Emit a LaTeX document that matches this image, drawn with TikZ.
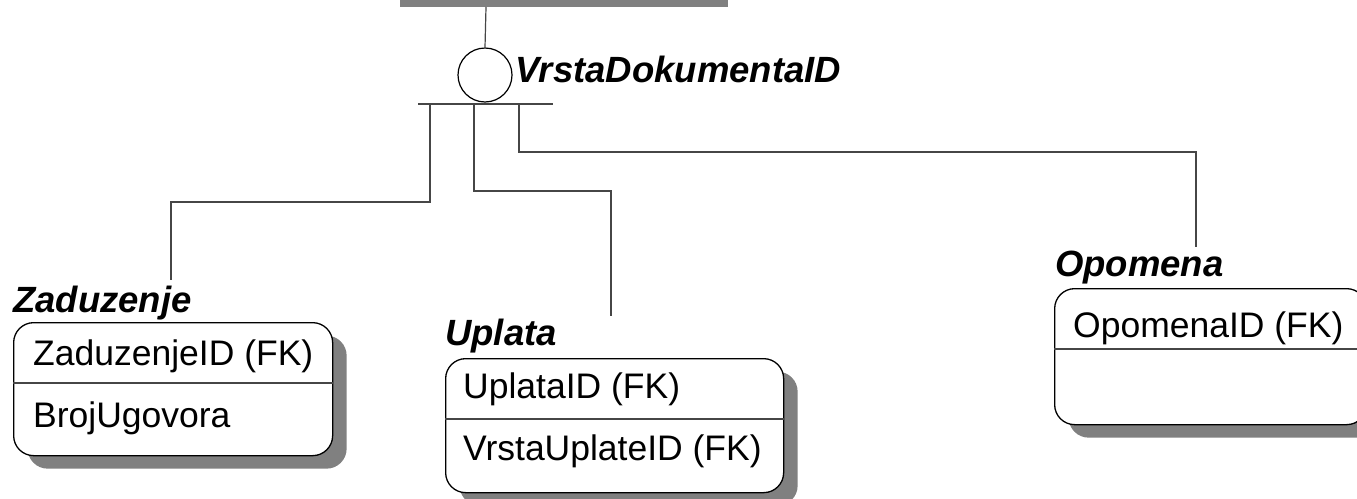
\documentclass[tikz,border=0pt]{standalone}
\usepackage{fontspec}
\setmainfont{Liberation Sans}
\usepackage{tikz}
\usetikzlibrary{shadows}

\definecolor{shadowgray}{RGB}{128,128,128}
\definecolor{linegray}{RGB}{70,70,70}

\tikzset{
  entbox/.style={draw=black, line width=1.3pt, rounded corners=20pt, fill=white,
    anchor=north west, inner sep=0pt,
    drop shadow={shadow xshift=14pt, shadow yshift=-13pt, opacity=1, fill=shadowgray}},
  enttitle/.style={anchor=base west, inner sep=0pt, font=\fontsize{36.5}{40}\selectfont\bfseries\itshape},
  attr/.style={anchor=base west, inner sep=0pt, font=\fontsize{35.5}{40}\selectfont},
  rel/.style={draw=linegray, line width=1.2pt},
  sepline/.style={draw=linegray, line width=1.2pt}
}

\begin{document}
\begin{tikzpicture}[x=1pt,y=-1pt]
  \useasboundingbox (0,0) rectangle (1357,498);
  \clip (0,0) rectangle (1357,498);

  % parent entity, only its shadow is visible
  \fill[shadowgray] (400,-10) rectangle (728,7);
  \coordinate (par) at (486,7);

  % subtype symbol
  \node[circle, draw, line width=1.2pt, minimum size=54pt, inner sep=0pt] (sub) at (485,75) {};
  \node[enttitle] (disc) at (515,82) {VrstaDokumentaID};
  \coordinate (barl) at (418,104);
  \coordinate (barr) at (553,104);
  \draw[rel] (par) -- (sub.north);
  \draw[rel] (barl) -- (barr);

  % Zaduzenje
  \node[enttitle] (zadt) at (13,312) {Zaduzenje};
  \node[entbox, minimum width=319pt, minimum height=133pt] (zad) at (13,322) {};
  \draw[sepline] ([yshift=-61pt]zad.north west) -- ([yshift=-61pt]zad.north east);
  \node[attr] (zada) at (33,365) {ZaduzenjeID (FK)};
  \node[attr] (zadb) at (33,427) {BrojUgovora};

  % Uplata
  \node[enttitle] (uplt) at (445,345) {Uplata};
  \node[entbox, minimum width=338pt, minimum height=134pt] (upl) at (445,358) {};
  \draw[sepline] ([yshift=-61pt]upl.north west) -- ([yshift=-61pt]upl.north east);
  \node[attr] (upla) at (463,398) {UplataID (FK)};
  \node[attr] (uplb) at (463,460) {VrstaUplateID (FK)};

  % Opomena
  \node[enttitle] (opot) at (1055,276) {Opomena};
  \node[entbox, minimum width=312pt, minimum height=136pt] (opo) at (1054,288) {};
  \draw[sepline] ([yshift=-61pt]opo.north west) -- ([yshift=-61pt]opo.north east);
  \node[attr] (opoa) at (1073,337) {OpomenaID (FK)};

  % connectors
  \coordinate (zs) at (430,104);
  \coordinate (ze) at (171,280);
  \coordinate (us) at (474,104);
  \coordinate (ue) at (611,316);
  \coordinate (os) at (519,104);
  \coordinate (oe) at (1196,247);
  \draw[rel] (zs) -- ++(0,98) -| (ze);
  \draw[rel] (us) -- ++(0,87) -| (ue);
  \draw[rel] (os) -- ++(0,48) -| (oe);
\end{tikzpicture}
\end{document}
